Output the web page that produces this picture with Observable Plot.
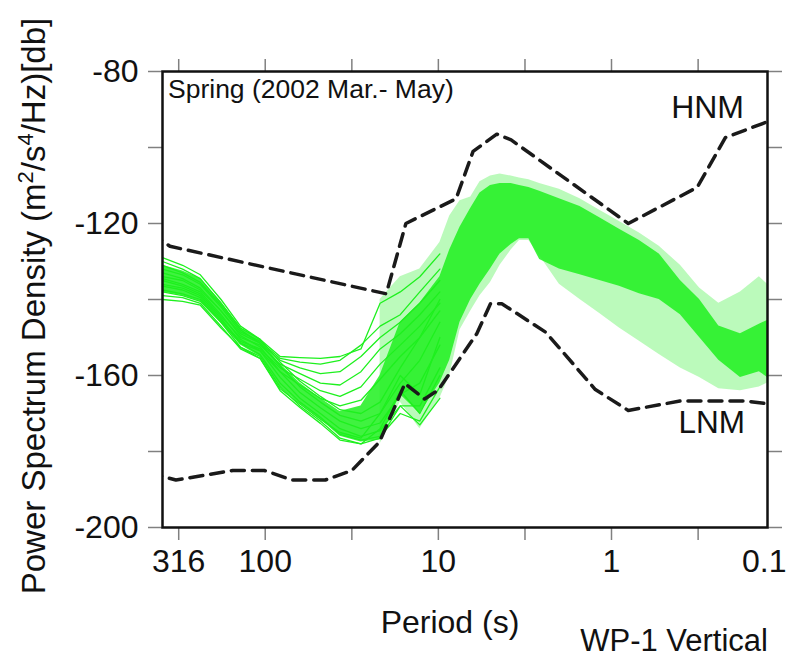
<!DOCTYPE html>
<html>
<head>
<meta charset="utf-8">
<script src="https://cdn.jsdelivr.net/npm/d3@7"></script>
<script src="https://cdn.jsdelivr.net/npm/@observablehq/plot@0.6"></script>
<style>
  body { margin: 0; background: #fff; }
  svg { display: block; }
</style>
</head>
<body>
<div id="chart"></div>
<script>
// ---------- texts ----------
const titleText = "Spring (2002 Mar.- May)";
const xTitle = "Period (s)";
const footText = "WP-1 Vertical";
const hnmName = "HNM";
const lnmName = "LNM";

// ---------- ticks ----------
const xTickValues = [316, 100, 31.6, 10, 3.16, 1, 0.316];
const xLabelValues = [316, 100, 10, 1];
const xLabelTexts = ["316", "100", "10", "1"];
const xEdgeLabelValues = [0.1256];
const xEdgeLabelTexts = ["0.1"];
const yTickValues = [-200, -180, -160, -140, -120, -100, -80];
const yLabelValues = [-200, -160, -120, -80];

// ---------- noise models (dB) ----------
const hnmPeriods = [0.1, 0.22, 0.32, 0.8, 3.8, 4.6, 6.3, 7.9, 15.4, 20, 354.8, 600];
const hnmDb = [-91.5, -97.4, -110.5, -120.0, -98.0, -96.5, -101.0, -113.5, -120.0, -138.5, -126.0, -118.8];
const lnmPeriods = [0.1, 0.17, 0.4, 0.8, 1.24, 2.4, 4.3, 5.0, 6.0, 10, 12, 15.6, 21.9, 31.6, 45, 70, 101, 154, 328, 600];
const lnmDb = [-168.0, -166.7, -166.7, -169.2, -163.7, -148.6, -141.1, -141.1, -149.0, -163.8, -166.2, -162.1, -177.5, -185.0, -187.5, -187.5, -185.0, -185.0, -187.5, -184.4];

// ---------- PSD cloud: dense core band ----------
const corePeriods = [392, 300, 237, 180, 139, 107, 82, 63, 48, 37, 28, 21.7, 16.6, 12.8, 9.8, 8.6, 7.5, 6.5, 5.75, 5.0, 4.4, 3.8, 3.4, 3.0, 2.6, 2.0, 1.52, 1.17, 0.9, 0.69, 0.53, 0.4, 0.31, 0.24, 0.18, 0.14, 0.1256];
const coreLow = [-138, -139, -140.5, -146, -152, -155, -163, -167.5, -171.5, -176, -177.5, -177, -165, -170, -162, -156, -146, -140, -136, -132, -128, -125.5, -124, -124, -129.5, -132, -133.5, -135, -136.5, -138.5, -140, -144, -150, -156, -160.5, -159, -160.5];
const coreHigh = [-131, -132.5, -134.5, -140.5, -147.5, -150.5, -157, -162, -166, -169.5, -168, -160, -146, -141, -134, -127, -121, -116, -112, -110, -109.5, -109.5, -110, -110.5, -111.5, -113.5, -115.5, -118.5, -121.5, -124.5, -128, -135, -140, -147, -149, -146.5, -145.5];

// ---------- PSD cloud: sparse outer band (short periods) ----------
const outerPeriods = [21.7, 16.6, 12.8, 9.8, 8.6, 7.5, 6.5, 5.75, 5.0, 4.4, 3.8, 3.4, 3.0, 2.6, 2.0, 1.52, 1.17, 0.9, 0.69, 0.53, 0.4, 0.31, 0.24, 0.18, 0.14, 0.1256];
const outerLow = [-178, -167, -174, -166, -160, -148, -143, -139, -135.5, -131, -127, -124.5, -124.5, -128.5, -136, -140, -143.7, -147.5, -151, -154.5, -158, -160.5, -163.5, -164, -163, -162];
const outerHigh = [-140, -134, -132, -125, -118, -114, -113, -109, -107.5, -107, -107.5, -108, -108.5, -109.5, -111, -113.5, -116.5, -119.5, -122.5, -126, -131, -137, -141, -138, -134, -136];

// ---------- individual long-period PSD curves ----------
const bundlePeriods = [392, 300, 237, 180, 139, 107, 82, 63, 48, 37, 28, 21.7, 16.6, 12.8, 9.8];
const curveL1 = [-129, -131, -133.5, -140, -147, -150.5, -156.5, -161.5, -165.5, -169, -170, -167, -158, -150, -140];
const curveL2 = [-131, -133, -135.5, -141.5, -148, -151.5, -157.5, -163, -167, -170.5, -172, -170, -162, -156, -146];
const curveL3 = [-133, -134.5, -137, -143, -149.5, -152.5, -159, -164.5, -168.5, -172, -174, -172.5, -165, -162, -152];
const curveL4 = [-134.5, -136, -138, -144, -150.5, -153.5, -160.5, -166, -170, -174, -176, -174.5, -168, -168, -158];
const curveL5 = [-136, -137, -139, -145, -151.5, -154.5, -162, -167, -171, -175.5, -177, -176, -170, -172, -163];
const curveL6 = [-137.5, -138.5, -140, -146, -152.5, -155, -163, -168, -172, -176.5, -178, -176.5, -168, -173, -166];
const curveL7 = [-139, -139.5, -141, -147, -153, -155.5, -164, -168.4, -172.6, -177, -178, -174, -164, -170, -160];
const curveL8 = [-140, -140.5, -141.5, -147.5, -152.6, -155.5, -163.5, -167.5, -171.5, -175, -176.5, -170, -160, -165, -150];
const curveU1 = [-130, -132, -134.5, -141, -147.5, -150.5, -155, -155.3, -155.5, -155, -153, -141, -138, -134, -128];
const curveU2 = [-132, -133.5, -136, -142, -148.5, -151, -155.5, -156.5, -157, -156, -152, -147, -144, -138, -132];
const curveU3 = [-134, -135, -137.5, -143, -149, -151.5, -156, -158, -159.5, -159, -155, -150, -146, -141, -135];
const curveU4 = [-135, -136.5, -138.5, -144.5, -150, -152, -157, -159.5, -162, -162.5, -159, -153, -149, -144, -138];
const curveU5 = [-136.5, -137.5, -139.5, -145.5, -151, -153, -158, -161, -164, -165.5, -163, -157, -152, -147, -141];
const curveU6 = [-138, -139, -140.5, -146, -151.5, -153.5, -159, -162.5, -166, -168, -166.5, -161, -155, -150, -143];
const bundleCurves = [curveL1, curveL2, curveL3, curveL4, curveL5, curveL6, curveL7, curveL8, curveU1, curveU2, curveU3, curveU4, curveU5, curveU6];

// ---------- tables for the library ----------
const hnmTable = hnmPeriods.map((p, i) => ({p, db: hnmDb[i]}));
const lnmTable = lnmPeriods.map((p, i) => ({p, db: lnmDb[i]}));
const coreTable = corePeriods.map((p, i) => ({p, lo: coreLow[i], hi: coreHigh[i]}));
const outerTable = outerPeriods.map((p, i) => ({p, lo: outerLow[i], hi: outerHigh[i]}));
const bundleTable = bundleCurves.flatMap((vals, k) => vals.map((v, i) => ({id: k, p: bundlePeriods[i], db: v})));
const xLabelTable = xLabelValues.map((v, i) => ({p: v, label: xLabelTexts[i]}));
const xEdgeLabelTable = xEdgeLabelValues.map((v, i) => ({p: v, label: xEdgeLabelTexts[i]}));

const green = "#1ef01e";
const font = "'Liberation Sans', Arial, Helvetica, sans-serif";

const chart = Plot.plot({
  width: 788,
  height: 659,
  marginLeft: 162,
  marginRight: 21,
  marginTop: 71,
  marginBottom: 132,
  style: {fontFamily: font, fontSize: "32px", background: "#fff", overflow: "visible", color: "#111"},
  x: {type: "log", domain: [392, 0.1256]},
  y: {domain: [-200, -80]},
  marks: [
    Plot.areaY(outerTable, {x: "p", y1: "lo", y2: "hi", fill: green, fillOpacity: 0.3}),
    Plot.areaY(coreTable, {x: "p", y1: "lo", y2: "hi", fill: green, fillOpacity: 0.85}),
    Plot.line(bundleTable, {x: "p", y: "db", z: "id", stroke: green, strokeWidth: 1.3}),
    Plot.line(hnmTable, {x: "p", y: "db", stroke: "#1a1a1a", strokeWidth: 3.5, strokeDasharray: "13,8", clip: true}),
    Plot.line(lnmTable, {x: "p", y: "db", stroke: "#1a1a1a", strokeWidth: 3.5, strokeDasharray: "13,8", clip: true}),
    Plot.axisX(xTickValues, {anchor: "bottom", tickSize: 13, stroke: "#808080", strokeWidth: 1.5, tickFormat: () => "", label: null}),
    Plot.axisX(xTickValues, {anchor: "top", tickSize: 13, stroke: "#808080", strokeWidth: 1.5, tickFormat: () => "", label: null}),
    Plot.text(xLabelTable, {x: "p", text: "label", frameAnchor: "bottom", lineAnchor: "top", dy: 22, fontSize: 32, fill: "#111"}),
    Plot.text(xEdgeLabelTable, {x: "p", text: "label", frameAnchor: "bottom", lineAnchor: "top", textAnchor: "end", dx: 19, dy: 22, fontSize: 32, fill: "#111"}),
    Plot.axisY(yTickValues, {anchor: "left", tickSize: 14, tickPadding: 10, stroke: "#808080", strokeWidth: 1.5, fill: "#111", fontSize: 32, tickFormat: d => yLabelValues.includes(d) ? String(d) : "", label: null}),
    Plot.axisY(yTickValues, {anchor: "right", tickSize: 14, stroke: "#808080", strokeWidth: 1.5, tickFormat: () => "", label: null}),
    Plot.frame({stroke: "#111", strokeWidth: 2.5})
  ]
});

document.getElementById("chart").appendChild(chart);

const svg = d3.select(chart);
const g = svg.append("g").attr("font-family", font).attr("fill", "#111").attr("text-anchor", "start");

g.append("text").attr("x", 168).attr("y", 98).attr("font-size", 26.5).attr("text-anchor", "start").text(titleText);
g.append("text").attr("x", 744).attr("y", 118).attr("font-size", 32).attr("text-anchor", "end").text(hnmName);
g.append("text").attr("x", 745).attr("y", 433).attr("font-size", 31.5).attr("text-anchor", "end").text(lnmName);
g.append("text").attr("x", 450).attr("y", 633).attr("font-size", 32).attr("text-anchor", "middle").text(xTitle);
g.append("text").attr("x", 768).attr("y", 651).attr("font-size", 31).attr("text-anchor", "end").text(footText);

const yt = g.append("text")
  .attr("transform", "translate(45,306) rotate(-90)")
  .attr("font-size", 33)
  .attr("text-anchor", "middle");
yt.append("tspan").text("Power Spectrum Density (m");
yt.append("tspan").attr("font-size", 22).attr("dy", -12).text("2");
yt.append("tspan").attr("dy", 12).text("/s");
yt.append("tspan").attr("font-size", 22).attr("dy", -12).text("4");
yt.append("tspan").attr("dy", 12).text("/Hz)[db]");
</script>
</body>
</html>
